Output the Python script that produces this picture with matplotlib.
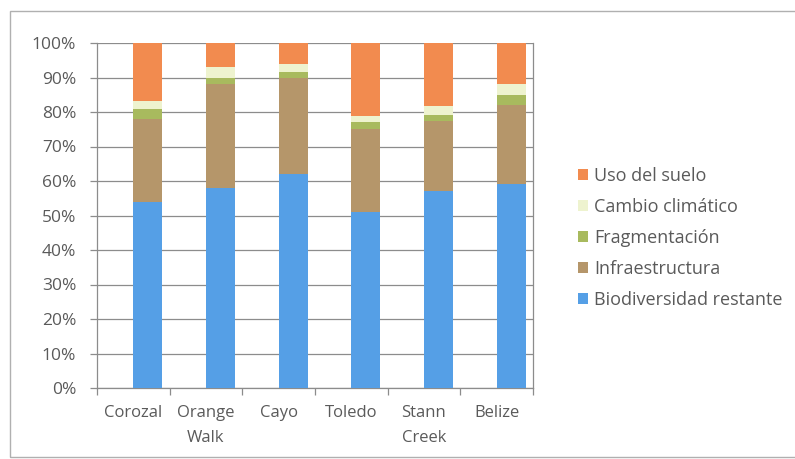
import matplotlib
matplotlib.use("Agg")
import matplotlib.pyplot as plt
from matplotlib.patches import Rectangle
import numpy as np

plt.rcParams['font.family'] = ['Open Sans', 'DejaVu Sans']

districts = ["Corozal", "Orange\nWalk", "Cayo", "Toledo", "Stann\nCreek", "Belize"]
biodiversidad = [54.0, 58.0, 62.0, 51.0, 57.0, 59.0]
infraestructura = [24.0, 30.0, 28.0, 24.0, 20.5, 23.0]
fragmentacion = [3.0, 2.0, 1.6, 2.0, 1.5, 3.0]
cambio_climatico = [2.3, 3.0, 2.4, 1.8, 2.7, 3.0]
uso_suelo = [16.7, 7.0, 6.0, 21.2, 18.3, 12.0]
y_ticks = [0, 10, 20, 30, 40, 50, 60, 70, 80, 90, 100]

series = [
    ("Biodiversidad restante", biodiversidad, "#559fe6"),
    ("Infraestructura", infraestructura, "#b5966a"),
    ("Fragmentación", fragmentacion, "#a8ba5e"),
    ("Cambio climático", cambio_climatico, "#eef3cf"),
    ("Uso del suelo", uso_suelo, "#f28b4f"),
]

text_color = "#5a5a5a"
line_color = "#8c8c8c"

fig = plt.figure(figsize=(7.95, 4.59), dpi=100)
fig.patch.set_facecolor("white")

# chart frame
fig.patches.append(Rectangle((10 / 795, 2 / 459), 800 / 795, 446 / 459,
                             transform=fig.transFigure, fill=False,
                             edgecolor="#b0b0b0", linewidth=1.0))

ax = fig.add_axes([97 / 795, 1 - 388 / 459, (533 - 97) / 795, (388 - 43) / 459])

x = np.arange(len(districts))
bar_offset = 0.2  # bars sit to the right of each category centre
bottom = np.zeros(len(districts))
handles = []
for name, vals, color in series:
    vals = np.array(vals)
    b = ax.bar(x + bar_offset, vals, width=0.4, bottom=bottom, color=color,
               label=name, zorder=3, linewidth=0)
    handles.append(b)
    bottom += vals

ax.set_xlim(-0.5, len(districts) - 0.5)
ax.set_ylim(0, 100)
ax.set_yticks(y_ticks)
ax.set_yticklabels([f"{v}%" for v in y_ticks])
ax.yaxis.grid(True, color=line_color, linewidth=0.9, zorder=0)

ax.set_xticks(x)
ax.set_xticklabels(districts, linespacing=1.75)
ax.set_xticks(np.arange(-0.5, len(districts)), minor=True)
ax.tick_params(axis="x", which="major", length=0, pad=12, labelsize=12,
               colors=text_color)
ax.tick_params(axis="x", which="minor", length=5, color=line_color, width=0.9)
ax.tick_params(axis="y", length=5, color=line_color, width=0.9, pad=10,
               labelsize=12.5, labelcolor=text_color)

for side in ("left", "right", "bottom"):
    ax.spines[side].set_color(line_color)
    ax.spines[side].set_linewidth(0.9)
ax.spines["top"].set_visible(False)

leg = fig.legend(handles[::-1], [s[0] for s in series][::-1],
                 loc="center left", bbox_to_anchor=(562 / 795, 1 - 238 / 459),
                 frameon=False, fontsize=13, handlelength=0.55,
                 handleheight=0.55, handletextpad=0.35, labelspacing=0.72)
for t in leg.get_texts():
    t.set_color(text_color)

fig.savefig("out.png", dpi=100, facecolor="white")
